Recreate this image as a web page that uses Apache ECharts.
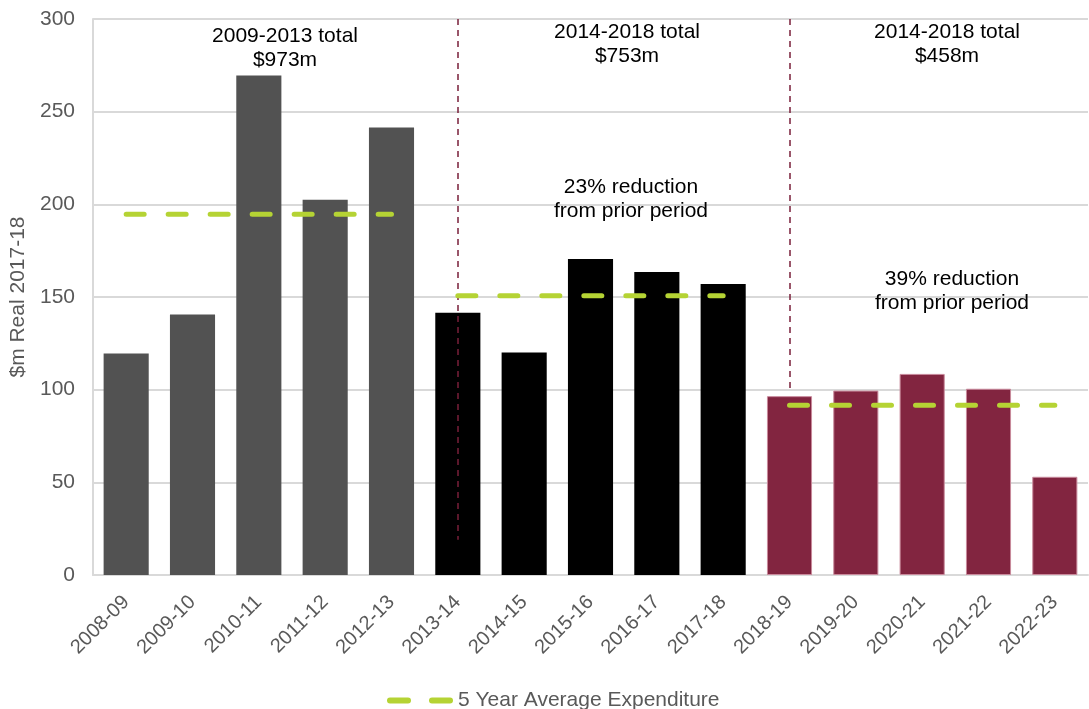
<!DOCTYPE html>
<html>
<head>
<meta charset="utf-8">
<script src="https://cdn.jsdelivr.net/npm/echarts@6/dist/echarts.min.js"></script>
<style>html,body{margin:0;padding:0;background:#fff;}#c{width:1089px;height:709px;}</style>
</head>
<body>
<div id="c"></div>
<script>
var categories = ['2008-09','2009-10','2010-11','2011-12','2012-13','2013-14','2014-15','2015-16','2016-17','2017-18','2018-19','2019-20','2020-21','2021-22','2022-23'];
var expenditure = [119.5, 140.5, 269.5, 202.5, 241.5, 141.5, 120, 170.5, 163.5, 157, 96.5, 99.5, 108.5, 100.5, 53];
var periodColors = ['#525252','#525252','#525252','#525252','#525252','#000000','#000000','#000000','#000000','#000000','#822540','#822540','#822540','#822540','#822540'];
var avg1 = [194.6, 194.6, 194.6, 194.6, 194.6, null, null, null, null, null, null, null, null, null, null];
var avg2 = [null, null, null, null, null, 150.7, 150.7, 150.7, 150.7, 150.7, null, null, null, null, null];
var avg3 = [null, null, null, null, null, null, null, null, null, null, 91.6, 91.6, 91.6, 91.6, 91.6];
var yTicks = [0, 50, 100, 150, 200, 250, 300];
var dividers = [['2013-14', 300, 19], ['2018-19', 300, 100]];
var annotations = [
  {text: '2009-2013 total\n$973m', x: 285, y: 24},
  {text: '2014-2018 total\n$753m', x: 627, y: 20},
  {text: '2014-2018 total\n$458m', x: 947, y: 20},
  {text: '23% reduction\nfrom prior period', x: 631, y: 175},
  {text: '39% reduction\nfrom prior period', x: 952, y: 267}
];

var chart = echarts.init(document.getElementById('c'));
var avgName = '5 Year Average Expenditure';
var FONT = 'Liberation Sans, Arial, sans-serif';
function avgSeries(d) {
  return {
    name: avgName, type: 'line', data: d, symbol: 'none', silent: true, z: 5,
    lineStyle: {color: '#b5d334', width: 5, type: [18, 24], cap: 'round'},
    itemStyle: {color: '#b5d334'}
  };
}
chart.setOption({
  animation: false,
  grid: {left: 93, right: 1, top: 19, bottom: 134},
  legend: {
    top: 685, left: 382, data: [{name: avgName, icon: 'path://M3,0 h18 a3,3 0 0 1 0,6 h-18 a3,3 0 0 1 0,-6 z M45,0 h18 a3,3 0 0 1 0,6 h-18 a3,3 0 0 1 0,-6 z'}],
    itemWidth: 66, itemHeight: 6, itemGap: 10,
    textStyle: {fontSize: 21, color: '#595959', fontFamily: FONT}
  },
  xAxis: {
    type: 'category', data: categories,
    axisLine: {lineStyle: {color: '#d9d9d9', width: 2}},
    axisTick: {show: false},
    axisLabel: {rotate: 45, fontSize: 20, color: '#595959', margin: 24, interval: 0, fontFamily: FONT}
  },
  yAxis: {
    type: 'value', min: 0, max: 300, interval: 50,
    name: '$m Real 2017-18', nameLocation: 'middle', nameGap: 61, nameRotate: 90,
    nameTextStyle: {fontSize: 21, color: '#595959', fontFamily: FONT},
    axisLine: {show: true, lineStyle: {color: '#d9d9d9', width: 2}},
    axisTick: {show: false},
    splitLine: {lineStyle: {color: '#d9d9d9', width: 2}},
    axisLabel: {fontSize: 21, color: '#595959', margin: 18, fontFamily: FONT,
      formatter: function (v) { return yTicks.indexOf(v) >= 0 ? String(v) : ''; }}
  },
  series: [
    {
      type: 'bar', name: 'Expenditure', barWidth: '68%', silent: true,
      data: expenditure.map(function (v, i) {
        return {value: v, itemStyle: {color: periodColors[i], borderColor: i >= 10 ? '#c98a9c' : periodColors[i], borderWidth: i >= 10 ? 1 : 0}};
      }),
      markLine: {
        silent: true, symbol: 'none', label: {show: false},
        lineStyle: {color: '#7a1f3a', width: 1.5, type: [6, 5]},
        data: dividers.map(function (d) { return [{coord: [d[0], d[1]]}, {coord: [d[0], d[2]]}]; })
      }
    },
    avgSeries(avg1), avgSeries(avg2), avgSeries(avg3)
  ],
  graphic: annotations.map(function (a) {
    return {type: 'text', x: a.x, y: a.y, z: 100,
      style: {text: a.text, fill: '#000', font: '21px ' + FONT, textAlign: 'center', lineHeight: 24}};
  })
});
</script>
</body>
</html>
